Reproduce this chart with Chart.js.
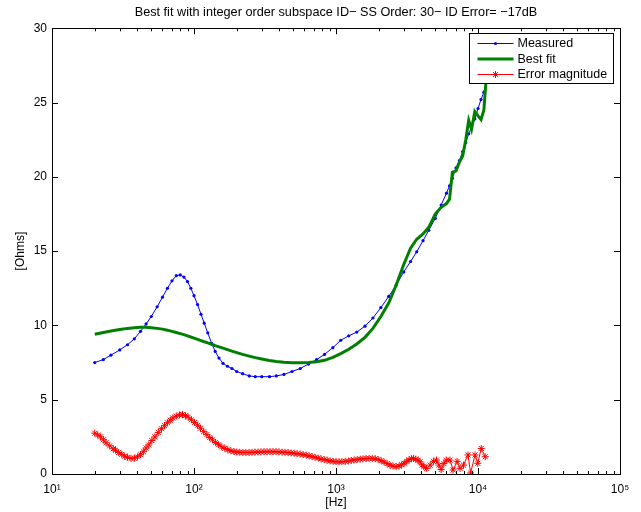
<!DOCTYPE html>
<html>
<head>
<meta charset="utf-8">
<title>Best fit with integer order subspace ID</title>
<script src="https://cdn.jsdelivr.net/npm/chart.js@4.4.1/dist/chart.umd.min.js"></script>
<style>
  html, body { margin: 0; padding: 0; background: #fff; }
  canvas { display: block; }
</style>
</head>
<body>
<canvas id="fitChart" width="641" height="512"></canvas>
<script>
// frequency points (Hz) shared by the measured and fitted curves
const freqHz = [20, 23, 26, 30, 34, 38, 42, 46, 50, 55,
  60, 65, 70, 75, 80, 85, 90, 95, 100, 106,
  112, 118, 125, 133, 141, 150, 160, 172, 185, 200,
  220, 245, 270, 300, 340, 380, 430, 490, 560, 640,
  730, 830, 950, 1080, 1230, 1400, 1600, 1820, 2070, 2350,
  2650, 3000, 3350, 3700, 4100, 4500, 5000, 5500, 6000, 6300,
  6600, 7000, 7400, 7800, 8200, 8600, 9000, 9500, 10000, 10500,
  11000, 11500];

const measuredOhms = [7.5, 7.7, 8.0, 8.35, 8.7, 9.1, 9.6, 10.1, 10.6, 11.25,
  11.9, 12.5, 13.0, 13.35, 13.4, 13.25, 12.95, 12.5, 12.0, 11.4,
  10.75, 10.15, 9.5, 8.8, 8.25, 7.8, 7.45, 7.25, 7.1, 6.9,
  6.75, 6.6, 6.55, 6.55, 6.55, 6.6, 6.7, 6.9, 7.1, 7.4,
  7.7, 8.05, 8.5, 9.0, 9.3, 9.55, 9.95, 10.5, 11.2, 11.95,
  12.7, 13.6, 14.3, 14.95, 15.7, 16.4, 17.2, 18.1, 18.9, 19.4,
  19.9, 20.6, 21.1, 21.7, 22.3, 22.9, 23.3, 23.9, 24.6, 25.2,
  25.7, 26.4];

const bestFitOhms = [9.4, 9.52, 9.62, 9.72, 9.8, 9.85, 9.88, 9.87, 9.85, 9.8,
  9.75, 9.68, 9.6, 9.52, 9.45, 9.38, 9.3, 9.22, 9.15, 9.06,
  8.98, 8.9, 8.82, 8.73, 8.64, 8.56, 8.47, 8.37, 8.27, 8.17,
  8.05, 7.93, 7.83, 7.74, 7.64, 7.57, 7.52, 7.49, 7.48, 7.5,
  7.55, 7.65, 7.85, 8.1, 8.4, 8.75, 9.2, 9.8, 10.6, 11.5,
  12.7, 14.1, 15.2, 15.8, 16.15, 16.6, 17.5, 17.95, 18.2, 18.5,
  20.3, 20.4, 21.0, 21.4, 22.5, 23.8, 23.2, 24.4, 24.1, 23.85,
  24.5, 27.0];

// error magnitude has its own, denser sampling
const errFreqHz = [20, 21, 22, 23, 24, 25.5, 27, 28, 29.5, 31,
  32.5, 34, 36, 38, 40, 42, 44, 46, 48, 50.5,
  53, 56, 59, 62, 65, 68, 71, 75, 79, 83,
  87, 91, 96, 101, 106, 111, 117, 123, 129, 135,
  142, 149, 157, 165, 173, 182, 191, 200, 210, 221,
  232, 244, 256, 269, 282, 296, 311, 327, 343, 360,
  378, 397, 417, 438, 460, 483, 507, 532, 559, 587,
  616, 647, 679, 713, 749, 786, 825, 866, 910, 955,
  1000, 1050, 1100, 1160, 1220, 1280, 1340, 1410, 1480, 1550,
  1630, 1710, 1800, 1890, 1980, 2080, 2180, 2290, 2400, 2520,
  2650, 2780, 2900, 3020, 3150, 3270, 3400, 3520, 3650, 3780,
  3900, 4030, 4150, 4350, 4600, 4850, 5100, 5300, 5500, 5750,
  5980, 6350, 6670, 7130, 7470, 7900, 8500, 8870, 9530, 9960,
  10540, 11240];

const errorOhms = [2.75, 2.63, 2.5, 2.3, 2.1, 1.9, 1.7, 1.6, 1.45, 1.32,
  1.2, 1.12, 1.05, 1.07, 1.15, 1.3, 1.5, 1.75, 1.95, 2.25,
  2.5, 2.8, 3.05, 3.25, 3.45, 3.62, 3.77, 3.9, 3.98, 4.0,
  3.93, 3.82, 3.65, 3.47, 3.28, 3.08, 2.85, 2.65, 2.45, 2.3,
  2.12, 1.97, 1.83, 1.72, 1.63, 1.56, 1.51, 1.48, 1.46, 1.45,
  1.45, 1.45, 1.46, 1.47, 1.48, 1.49, 1.5, 1.5, 1.5, 1.5,
  1.5, 1.49, 1.47, 1.46, 1.44, 1.42, 1.4, 1.37, 1.34, 1.31,
  1.27, 1.22, 1.17, 1.12, 1.07, 1.02, 0.97, 0.93, 0.88, 0.85,
  0.83, 0.82, 0.83, 0.85, 0.88, 0.91, 0.94, 0.97, 1.0, 1.02,
  1.04, 1.05, 1.05, 1.03, 0.98, 0.9, 0.8, 0.7, 0.6, 0.53,
  0.5, 0.53, 0.62, 0.72, 0.85, 0.96, 1.03, 1.05, 1.0, 0.93,
  0.82, 0.62, 0.5, 0.38, 0.6, 0.85, 0.94, 0.6, 0.3, 0.7,
  0.94, 0.94, 0.27, 0.85, 0.38, 0.6, 1.28, 0.07, 1.28, 0.72,
  1.72, 1.16];

const xDecades = [10, 100, 1000, 10000, 100000];
const xTickLabels = ['10\u00b9', '10\u00b2', '10\u00b3', '10\u2074', '10\u2075'];
const yTicks = [0, 5, 10, 15, 20, 25, 30];
const seriesNames = ['Measured', 'Best fit', 'Error magnitude'];

const FONT = "'Liberation Sans', Arial, Helvetica, sans-serif";
Chart.defaults.font.family = FONT;
Chart.defaults.color = '#000';

function pairs(xs, ys) {
  return xs.map((f, i) => ({ x: f, y: ys[i] }));
}

// MATLAB-like box: inward ticks on all four sides, then an opaque legend
const matlabAxes = {
  id: 'matlabAxes',
  afterDatasetsDraw(chart) {
    const { ctx, chartArea: a, scales: { x, y } } = chart;
    ctx.save();
    ctx.strokeStyle = '#000';
    ctx.lineWidth = 1;
    ctx.beginPath();
    xDecades.forEach(d => {
      for (let m = 1; m < 10; m++) {
        const v = d * m;
        if (v > x.max) break;
        const px = Math.round(x.getPixelForValue(v)) + 0.5;
        const len = m === 1 ? 6 : 3;
        ctx.moveTo(px, a.bottom); ctx.lineTo(px, a.bottom - len);
        ctx.moveTo(px, a.top); ctx.lineTo(px, a.top + len);
      }
    });
    yTicks.forEach(v => {
      const py = Math.round(y.getPixelForValue(v)) + 0.5;
      ctx.moveTo(a.left, py); ctx.lineTo(a.left + 6, py);
      ctx.moveTo(a.right, py); ctx.lineTo(a.right - 6, py);
    });
    ctx.stroke();
    ctx.strokeRect(Math.round(a.left) + 0.5, Math.round(a.top) + 0.5,
      Math.round(a.right - a.left), Math.round(a.bottom - a.top));

    // legend
    const w = 144, h = 50;
    const lx = Math.round(a.right - 7 - w) + 0.5, ly = Math.round(a.top + 5) + 0.5;
    ctx.fillStyle = '#fff';
    ctx.fillRect(lx, ly, w, h);
    ctx.strokeStyle = '#000';
    ctx.lineWidth = 1;
    ctx.strokeRect(lx, ly, w, h);
    ctx.font = '12.5px ' + FONT;
    ctx.textBaseline = 'middle';
    ctx.textAlign = 'left';
    chart.data.datasets.forEach((ds, i) => {
      const ry = ly + 10 + i * 15.5;
      ctx.strokeStyle = ds.borderColor;
      ctx.lineWidth = ds.borderWidth;
      ctx.beginPath();
      ctx.moveTo(lx + 8, ry); ctx.lineTo(lx + 44, ry);
      ctx.stroke();
      if (ds.pointRadius > 0) {
        ctx.fillStyle = ds.pointBackgroundColor;
        ctx.strokeStyle = ds.pointBorderColor;
        Chart.helpers.drawPoint(ctx, {
          pointStyle: ds.pointStyle, radius: ds.pointRadius,
          borderWidth: ds.pointBorderWidth, rotation: 0
        }, lx + 26, ry);
      }
      ctx.fillStyle = '#000';
      ctx.fillText(ds.label, lx + 48, ry + 0.5);
    });
    ctx.restore();
  }
};

const ctx = document.getElementById('fitChart').getContext('2d');
new Chart(ctx, {
  type: 'line',
  data: {
    datasets: [
      {
        label: seriesNames[0],
        data: pairs(freqHz, measuredOhms),
        borderColor: '#0000ff',
        borderWidth: 1,
        pointStyle: 'circle',
        pointRadius: 1.6,
        pointBackgroundColor: '#0000ff',
        pointBorderColor: '#0000ff',
        pointBorderWidth: 0,
        order: 1
      },
      {
        label: seriesNames[1],
        data: pairs(freqHz, bestFitOhms),
        borderColor: '#008000',
        borderWidth: 3,
        pointRadius: 0,
        order: 0
      },
      {
        label: seriesNames[2],
        data: pairs(errFreqHz, errorOhms),
        borderColor: '#ff0000',
        borderWidth: 1,
        pointStyle: 'star',
        pointRadius: 3.5,
        pointBackgroundColor: '#ff0000',
        pointBorderColor: '#ff0000',
        pointBorderWidth: 1,
        order: 2
      }
    ]
  },
  options: {
    responsive: false,
    animation: false,
    devicePixelRatio: 1,
    layout: { padding: { left: 0, right: 21, top: 0, bottom: 0 } },
    elements: { line: { tension: 0 } },
    scales: {
      x: {
        type: 'logarithmic',
        min: 10,
        max: 100000,
        grid: { display: false, drawTicks: false },
        border: { display: false },
        afterBuildTicks: (scale) => { scale.ticks = xDecades.map(v => ({ value: v })); },
        afterFit: (scale) => { scale.height = 38; },
        ticks: {
          autoSkip: false,
          maxRotation: 0,
          padding: 8,
          font: { size: 12 },
          callback: (v) => {
            const i = xDecades.indexOf(v);
            return i >= 0 ? xTickLabels[i] : '';
          }
        },
        title: { display: true, text: '[Hz]', font: { size: 12 }, padding: { top: 0, bottom: 2 } }
      },
      y: {
        min: 0,
        max: 30,
        grid: { display: false, drawTicks: false },
        border: { display: false },
        afterBuildTicks: (scale) => { scale.ticks = yTicks.map(v => ({ value: v })); },
        afterFit: (scale) => { scale.width = 52; },
        ticks: { padding: 5, font: { size: 12 } },
        title: { display: true, text: '[Ohms]', font: { size: 12 }, padding: { top: 13, bottom: 0 } }
      }
    },
    plugins: {
      legend: { display: false },
      tooltip: { enabled: false },
      title: {
        display: true,
        fullSize: false,
        text: 'Best fit with integer order subspace ID\u2212 SS Order: 30\u2212 ID Error= \u221217dB',
        font: { size: 12.7, weight: 'normal' },
        padding: { top: 5, bottom: 8 }
      }
    }
  },
  plugins: [matlabAxes]
});
</script>
</body>
</html>
